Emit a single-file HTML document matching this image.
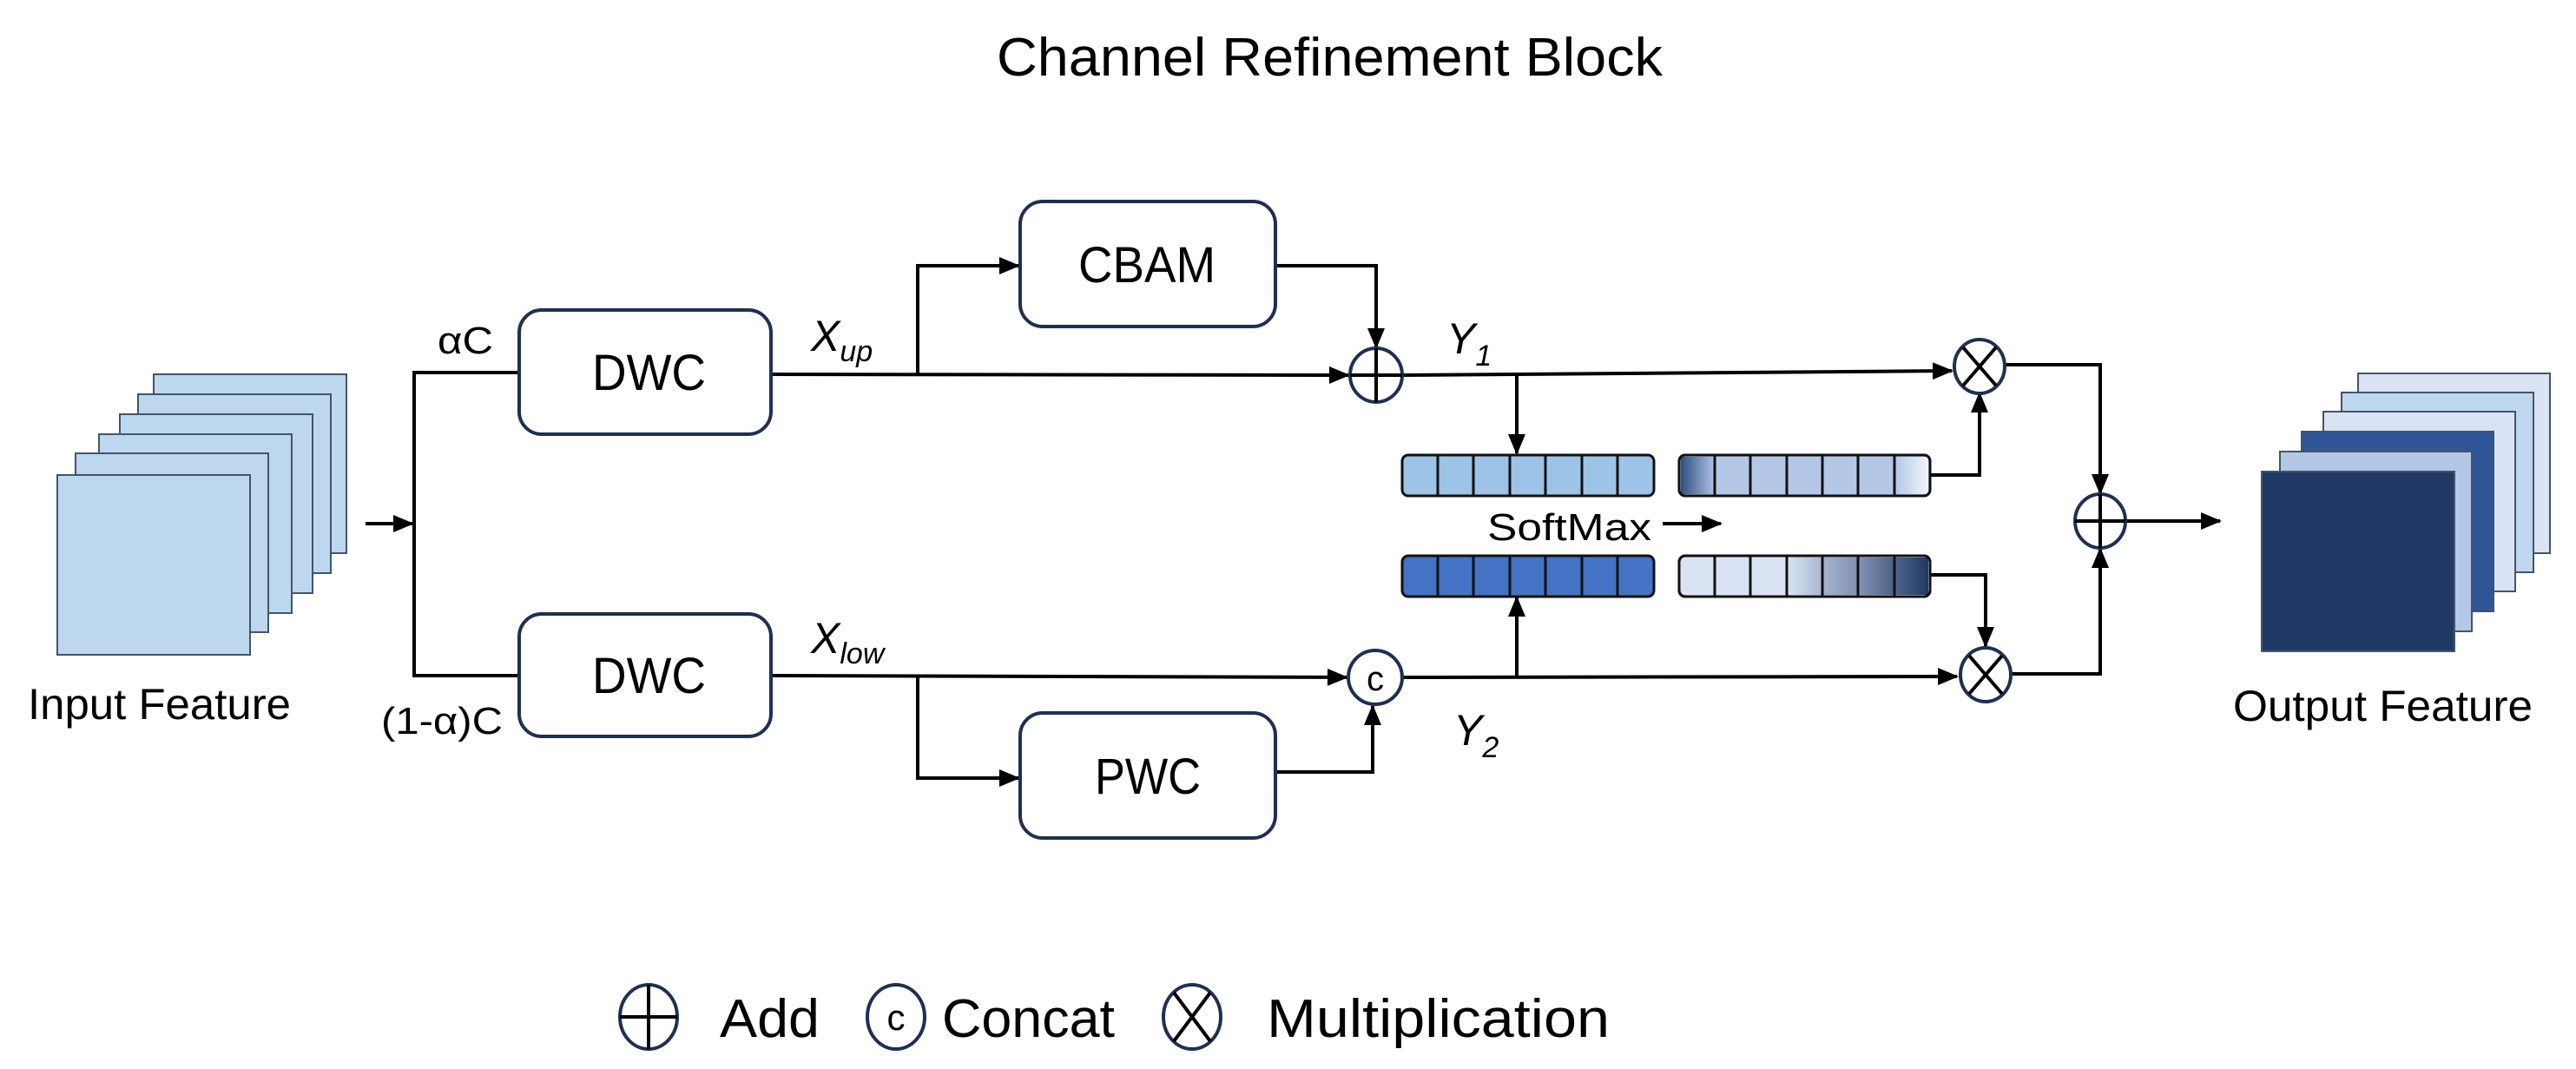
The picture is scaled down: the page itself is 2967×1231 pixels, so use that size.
<!DOCTYPE html>
<html><head><meta charset="utf-8"><style>html,body{margin:0;padding:0;background:#fff}svg{display:block}text{font-family:"Liberation Sans",sans-serif;fill:#000}</style></head>
<body>
<svg width="2967" height="1231" viewBox="0 0 2967 1231" xmlns="http://www.w3.org/2000/svg">
<defs>
<marker id="a" markerUnits="userSpaceOnUse" markerWidth="24" markerHeight="20" refX="22" refY="10" orient="auto"><path d="M0,0 L24,10 L0,20 z" fill="#000"/></marker>
<linearGradient id="g1"><stop offset="0" stop-color="#2f4f80"/><stop offset="1" stop-color="#b4c7e7"/></linearGradient>
<linearGradient id="g2"><stop offset="0" stop-color="#b4c7e7"/><stop offset="1" stop-color="#f0f4fb"/></linearGradient>
<linearGradient id="g3"><stop offset="0" stop-color="#dae3f3"/><stop offset="1" stop-color="#a9b8d1"/></linearGradient>
<linearGradient id="g4"><stop offset="0" stop-color="#a5b4cf"/><stop offset="1" stop-color="#8090b2"/></linearGradient>
<linearGradient id="g5"><stop offset="0" stop-color="#8494b4"/><stop offset="1" stop-color="#4e6288"/></linearGradient>
<linearGradient id="g6"><stop offset="0" stop-color="#50668e"/><stop offset="1" stop-color="#203864"/></linearGradient>
</defs>

<text x="1148" y="87" font-size="62" textLength="767" lengthAdjust="spacingAndGlyphs">Channel Refinement Block</text>

<!-- input stack -->
<g stroke="#44546a" stroke-width="2" fill="#bdd7ee">
<rect x="177" y="431" width="222" height="206"/>
<rect x="159" y="454" width="222" height="206"/>
<rect x="138" y="477" width="222" height="206"/>
<rect x="114" y="500" width="222" height="206"/>
<rect x="87" y="522" width="222" height="206"/>
<rect x="66" y="547" width="222" height="207"/>
</g>
<text x="32" y="828" font-size="50" textLength="303" lengthAdjust="spacingAndGlyphs">Input Feature</text>

<!-- output stack -->
<g stroke="#44546a" stroke-width="2">
<rect x="2716" y="430" width="221" height="207" fill="#dae3f3"/>
<rect x="2697" y="452" width="221" height="207" fill="#bdd7ee"/>
<rect x="2676" y="474" width="221" height="207" fill="#dae3f3"/>
<rect x="2651" y="497" width="221" height="207" fill="#2f5597"/>
<rect x="2626" y="520" width="221" height="207" fill="#b4c7e7"/>
<rect x="2605" y="543" width="222" height="207" fill="#203864"/>
</g>
<text x="2572" y="830" font-size="50" textLength="345" lengthAdjust="spacingAndGlyphs">Output Feature</text>

<!-- lines -->
<g stroke="#000" stroke-width="4" fill="none">
<line x1="421" y1="603" x2="475" y2="603" marker-end="url(#a)"/>
<polyline points="598,429 477,429 477,778 598,778"/>
<line x1="888" y1="431" x2="1553" y2="432" marker-end="url(#a)"/>
<polyline points="1057,431 1057,306 1173,306" marker-end="url(#a)"/>
<polyline points="1469,306 1585,306 1585,400" marker-end="url(#a)"/>
<line x1="1616" y1="432" x2="2248" y2="427" marker-end="url(#a)"/>
<line x1="1747" y1="432" x2="1747" y2="522" marker-end="url(#a)"/>
<line x1="888" y1="778" x2="1551" y2="780" marker-end="url(#a)"/>
<polyline points="1057,778 1057,896 1173,896" marker-end="url(#a)"/>
<polyline points="1469,889 1581,889 1581,813" marker-end="url(#a)"/>
<line x1="1615" y1="780" x2="2254" y2="779" marker-end="url(#a)"/>
<line x1="1747" y1="780" x2="1747" y2="688" marker-end="url(#a)"/>
<line x1="1915" y1="603" x2="1982" y2="603" marker-end="url(#a)"/>
<polyline points="2223,547 2280,547 2280,453" marker-end="url(#a)"/>
<polyline points="2223,662 2287,662 2287,744" marker-end="url(#a)"/>
<polyline points="2310,420 2419,420 2419,568" marker-end="url(#a)"/>
<polyline points="2316,776 2419,776 2419,632" marker-end="url(#a)"/>
<line x1="2448" y1="600" x2="2557" y2="600" marker-end="url(#a)"/>
</g>

<!-- boxes -->
<g stroke="#1f3050" stroke-width="4" fill="#fff">
<rect x="598" y="357" width="290" height="143" rx="26"/>
<rect x="598" y="707" width="290" height="141" rx="26"/>
<rect x="1175" y="232" width="294" height="144" rx="26"/>
<rect x="1175" y="821" width="294" height="144" rx="26"/>
</g>
<text x="682" y="449" font-size="58" textLength="131" lengthAdjust="spacingAndGlyphs">DWC</text>
<text x="682" y="798" font-size="58" textLength="131" lengthAdjust="spacingAndGlyphs">DWC</text>
<text x="1242" y="325" font-size="58" textLength="158" lengthAdjust="spacingAndGlyphs">CBAM</text>
<text x="1261" y="914" font-size="58" textLength="122" lengthAdjust="spacingAndGlyphs">PWC</text>

<text x="504" y="407" font-size="44" textLength="64" lengthAdjust="spacingAndGlyphs">αC</text>
<text x="439" y="845" font-size="44" textLength="140" lengthAdjust="spacingAndGlyphs">(1-α)C</text>
<text x="934" y="404" font-size="50" font-style="italic">X<tspan font-size="34" dy="12">up</tspan></text>
<text x="934" y="752" font-size="50" font-style="italic">X<tspan font-size="34" dy="12">low</tspan></text>
<text x="1666" y="407" font-size="50" font-style="italic">Y<tspan font-size="34" dy="14">1</tspan></text>
<text x="1674" y="858" font-size="50" font-style="italic">Y<tspan font-size="34" dy="14">2</tspan></text>
<text x="1713" y="622" font-size="44" textLength="189" lengthAdjust="spacingAndGlyphs">SoftMax</text>

<!-- bars -->
<g stroke="#111" stroke-width="3">
<rect x="1615" y="524" width="290" height="47" rx="7" fill="#9dc3e6"/>
<rect x="1615" y="640" width="290" height="47" rx="7" fill="#4472c4"/>
<rect x="1934" y="524" width="289" height="47" rx="7" fill="#b4c7e7"/>
<rect x="1936" y="526" width="40" height="43" fill="url(#g1)" stroke="none"/>
<rect x="2182" y="526" width="39" height="43" fill="url(#g2)" stroke="none"/>
<rect x="1934" y="640" width="289" height="47" rx="7" fill="#dae3f3"/>
<rect x="2058" y="642" width="41" height="43" fill="url(#g3)" stroke="none"/>
<rect x="2099" y="642" width="41" height="43" fill="url(#g4)" stroke="none"/>
<rect x="2140" y="642" width="41" height="43" fill="url(#g5)" stroke="none"/>
<rect x="2181" y="642" width="40" height="43" fill="url(#g6)" stroke="none"/>
<rect x="1934" y="524" width="289" height="47" rx="7" fill="none"/>
<rect x="1934" y="640" width="289" height="47" rx="7" fill="none"/>
<path d="M1656,524v47M1697,524v47M1739,524v47M1780,524v47M1822,524v47M1863,524v47M1656,640v47M1697,640v47M1739,640v47M1780,640v47M1822,640v47M1863,640v47M1975,524v47M2016,524v47M2058,524v47M2099,524v47M2140,524v47M2182,524v47M1975,640v47M2016,640v47M2058,640v47M2099,640v47M2140,640v47M2182,640v47" fill="none"/>
</g>

<!-- operators -->
<g stroke="#1f3050" stroke-width="4" fill="#fff">
<ellipse cx="1585" cy="432" rx="30" ry="31"/>
<ellipse cx="1584" cy="780" rx="31" ry="31"/>
<ellipse cx="2280" cy="422" rx="29" ry="31"/>
<ellipse cx="2287" cy="777" rx="29" ry="31"/>
<ellipse cx="2419" cy="600" rx="29" ry="31"/>
</g>
<g stroke="#000" stroke-width="4">
<path d="M1555,432h60M1585,401v62"/>
<path d="M2419,569v62M2390,600h58"/>
<path d="M2261,400l38,44M2299,400l-38,44"/>
<path d="M2268,755l38,44M2306,755l-38,44"/>
</g>
<text x="1584" y="795" font-size="40" text-anchor="middle">c</text>

<!-- legend -->
<g stroke="#1f3050" stroke-width="4" fill="#fff">
<ellipse cx="747" cy="1171" rx="33" ry="37"/>
<ellipse cx="1032" cy="1171" rx="33" ry="37"/>
<ellipse cx="1373" cy="1171" rx="33" ry="37"/>
</g>
<g stroke="#000" stroke-width="4">
<path d="M714,1171h66M747,1134v74"/>
<path d="M1352,1143l42,56M1394,1143l-42,56"/>
</g>
<text x="1032" y="1186" font-size="42" text-anchor="middle">c</text>
<text x="829" y="1194" font-size="62" textLength="115" lengthAdjust="spacingAndGlyphs">Add</text>
<text x="1085" y="1194" font-size="62" textLength="199" lengthAdjust="spacingAndGlyphs">Concat</text>
<text x="1459" y="1194" font-size="62" textLength="395" lengthAdjust="spacingAndGlyphs">Multiplication</text>
</svg>
</body></html>
